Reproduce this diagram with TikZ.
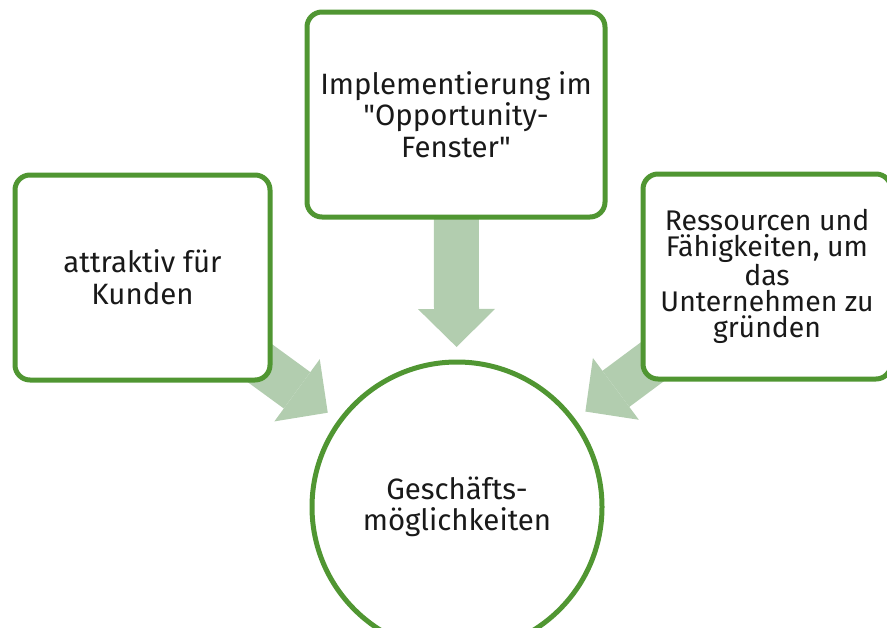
\documentclass[tikz,border=0pt]{standalone}
\usepackage{fontspec}
\setmainfont{Fira Sans}[Ligatures=TeXOff]
\usetikzlibrary{arrows.meta,backgrounds}
\definecolor{rimgreen}{RGB}{80,150,50}
\definecolor{flowgreen}{RGB}{178,205,175}
\definecolor{inkgray}{RGB}{25,25,25}

\begin{document}
\begin{tikzpicture}[
    x=0.5pt, y=-0.5pt,
    box/.style={draw=rimgreen, line width=2.5pt, rounded corners=7.5pt, fill=white,
        align=center, text=inkgray, inner sep=0pt, minimum height=102.5pt,
        font=\fontsize{14.7}{15.8}\selectfont},
    hub/.style={circle, draw=rimgreen, line width=2.5pt, fill=white, align=center,
        text=inkgray, inner sep=0pt, minimum size=145pt, font=\fontsize{14.7}{15.6}\selectfont},
    flow/.style={draw=flowgreen, line width=22.5pt, shorten >=80pt,
        -{Triangle[length=19pt, width=38.5pt, line width=0pt, fill=flowgreen]}}
]
\useasboundingbox (0,0) rectangle (887,627);
\clip (0,0) rectangle (887,627);
% three sources
\node[box, minimum width=127.5pt] (kunden) at (142.5,277.5) {attraktiv für\\Kunden};
\node[box, minimum width=149pt] (fenster) at (456,114.5) {Implementierung im\\"Opportunity-\\Fenster"};
\node[box, minimum width=124pt, font=\fontsize{14.2}{13}\selectfont] (ressourcen) at (767,276.5)
    {Ressourcen und\\Fähigkeiten, um\\das\\Unternehmen zu\\gründen};
% centre
\node[hub] (chance) at (457,507) {Geschäfts-\\möglichkeiten};
% block arrows behind the boxes
\begin{pgfonlayer}{background}
\foreach \src in {kunden, fenster, ressourcen} {
    \draw[flow] (\src.center) -- (chance.center);
}
\end{pgfonlayer}
\end{tikzpicture}
\end{document}
